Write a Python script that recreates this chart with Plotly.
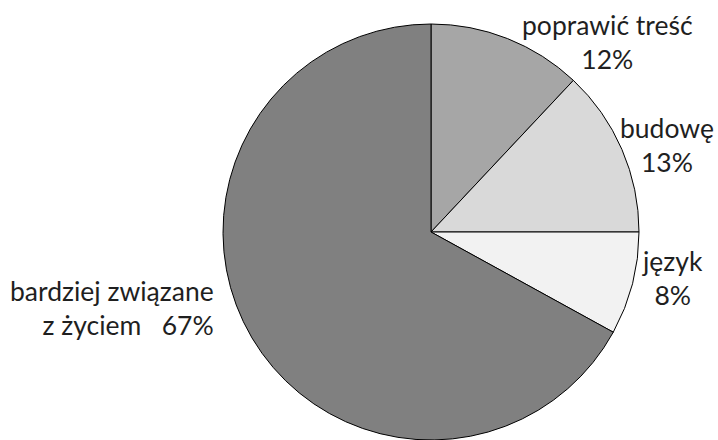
# wykres kołowy: co zmienić w lekturach
import plotly.graph_objects as go

# dane
labels = ['poprawić treść', 'budowę', 'język', 'bardziej związane z życiem']
values = [12, 13, 8, 67]
colors = ['#a6a6a6', '#d9d9d9', '#f2f2f2', '#808080']

# podpisy: tekst z danych, pozycje ręcznie jak w oryginale
label_text = [
    f'{labels[0]}<br>{values[0]}%',
    f'{labels[1]}<br>{values[1]}%',
    f'{labels[2]}<br>{values[2]}%',
    'bardziej związane<br>z życiem   ' + f'{values[3]}%',
]
label_pos = [(607, 42, 'center', 'center'),
             (667, 145, 'center', 'center'),
             (672, 278, 'center', 'center'),
             (216, 308, 'right', 'right')]

W, H = 718, 440
cx, cy, R = 431, 232, 208

fig = go.Figure(go.Pie(
    labels=labels,
    values=values,
    sort=False,
    direction='clockwise',
    rotation=0,
    textinfo='none',
    hoverinfo='label+percent',
    marker=dict(colors=colors, line=dict(color='black', width=1)),
    domain=dict(x=[(cx - R) / W, (cx + R) / W],
                y=[max(0, (H - cy - R) / H), (H - cy + R) / H]),
    showlegend=False,
))

for txt, (px_, py_, xa, al) in zip(label_text, label_pos):
    fig.add_annotation(
        text=txt,
        x=px_ / W, y=1 - py_ / H,
        xref='paper', yref='paper',
        xanchor=xa, yanchor='middle', align=al,
        showarrow=False,
        font=dict(family='Lato', size=26.5, color='#1f1f1f'),
    )

fig.update_layout(
    width=W, height=H,
    margin=dict(l=0, r=0, t=0, b=0),
    paper_bgcolor='white',
    plot_bgcolor='white',
)

# bez marginesu strony, żeby wykres zajmował całe okno
fig.write_html('out.html',
               config={'displayModeBar': False},
               post_script="document.body.style.margin='0';"
                           "document.body.style.overflow='hidden';")
